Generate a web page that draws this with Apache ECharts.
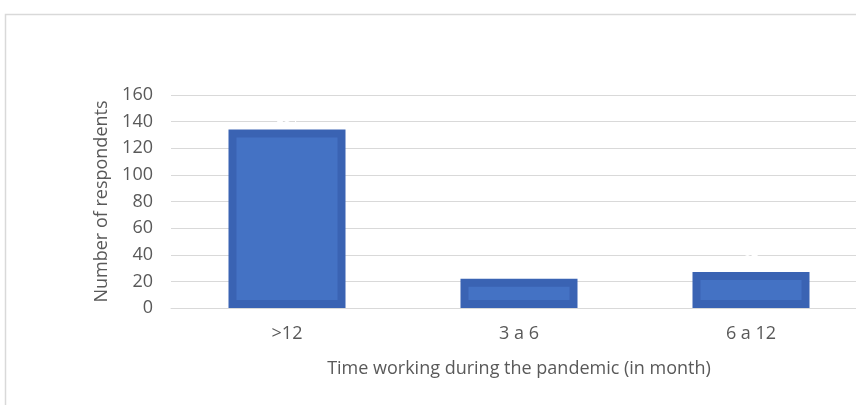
<!DOCTYPE html>
<html><head><meta charset="utf-8">
<script src="https://cdn.jsdelivr.net/npm/echarts@6/dist/echarts.min.js"></script>
<style>html,body{margin:0;padding:0;background:#fff}#c{width:856px;height:405px}</style>
</head><body><div id="c"></div>
<script>
const categories = ['>12', '3 a 6', '6 a 12'];
const respondents = [134, 22, 27];
const yTicks = [0, 20, 40, 60, 80, 100, 120, 140, 160];

const chart = echarts.init(document.getElementById('c'));
chart.setOption({
  backgroundColor: '#fff',
  animation: false,
  graphic: [{
    type: 'rect', shape: {x: 5.5, y: 14.5, width: 900, height: 500},
    style: {fill: 'none', stroke: '#d9d9d9', lineWidth: 1.5}, silent: true
  }],
  grid: {left: 171, top: 95, width: 696, height: 213, containLabel: false, outerBoundsMode: 'none'},
  xAxis: {
    type: 'category', data: categories,
    axisLine: {show: true, lineStyle: {color: '#d9d9d9', width: 1}},
    axisTick: {show: false},
    axisLabel: {color: '#595959', fontSize: 18, fontFamily: 'Open Sans', margin: 17},
    name: 'Time working during the pandemic (in month)',
    nameLocation: 'middle', nameGap: 52,
    nameTextStyle: {color: '#595959', fontSize: 18, fontFamily: 'Open Sans'}
  },
  yAxis: {
    type: 'value', min: yTicks[0], max: yTicks[yTicks.length - 1], interval: 20,
    axisLine: {show: false}, axisTick: {show: false},
    splitLine: {lineStyle: {color: '#d9d9d9', width: 1}},
    axisLabel: {color: '#595959', fontSize: 18, fontFamily: 'Open Sans', margin: 18},
    name: 'Number of respondents', nameLocation: 'middle', nameGap: 60, nameRotate: 90,
    nameTextStyle: {color: '#595959', fontSize: 18, fontFamily: 'Open Sans'}
  },
  series: [{
    type: 'bar', data: respondents, barWidth: 117, clip: true,
    itemStyle: {color: '#4472C4', borderColor: '#3A63B3', borderWidth: 8},
    label: {show: true, position: 'top', color: '#ffffff', fontSize: 13}
  }]
});
</script></body></html>
